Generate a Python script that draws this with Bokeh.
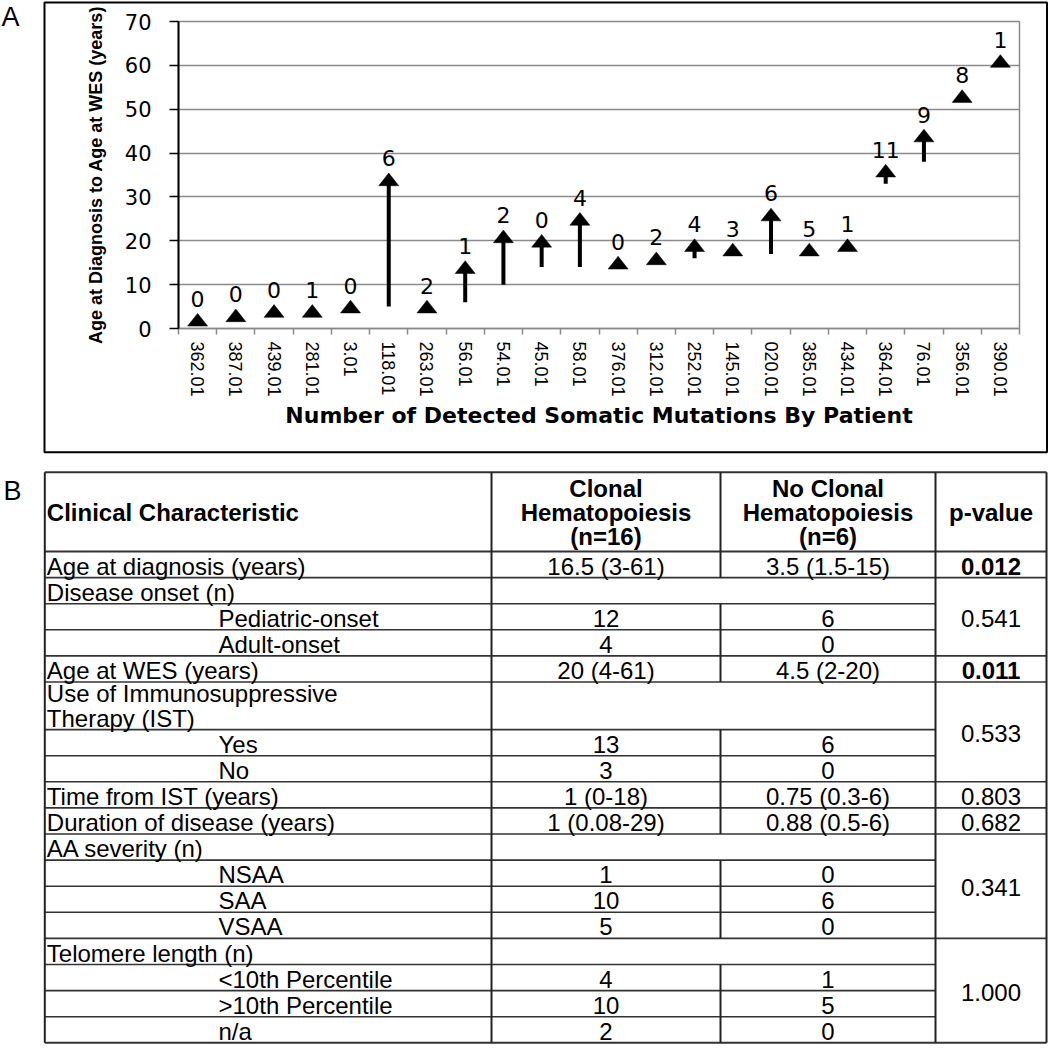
import numpy as np
from bokeh.plotting import figure
from bokeh.models import Range1d, FixedTicker
from bokeh.embed import file_html
from bokeh.resources import INLINE
from bokeh.core.properties import value

# ---------------- data: panel A ----------------
patients = ["362.01", "387.01", "439.01", "281.01", "3.01", "118.01", "263.01",
            "56.01", "54.01", "45.01", "58.01", "376.01", "312.01", "252.01",
            "145.01", "020.01", "385.01", "434.01", "364.01", "76.01", "356.01", "390.01"]
age_at_wes = [2, 3, 4, 4, 5, 34, 5, 14, 21, 20, 25, 15, 16, 19, 18, 26, 18, 19, 36, 44, 53, 61]
age_at_diagnosis = [1.5, 2, 3, 3, 4, 5, 5, 6, 10, 14, 14, 15, 16, 16, 18, 17, 18, 19, 33, 38, 53, 61]
somatic_mutations = [0, 0, 0, 1, 0, 6, 2, 1, 2, 0, 4, 0, 2, 4, 3, 6, 5, 1, 11, 9, 8, 1]
y_ticks = [0, 10, 20, 30, 40, 50, 60, 70]

# ---------------- data: panel B ----------------
header_cells = ["Clinical Characteristic", "Clonal\nHematopoiesis\n(n=16)",
                "No Clonal\nHematopoiesis\n(n=6)", "p-value"]
characteristics = ["Age at diagnosis (years)", "Disease onset (n)", "Pediatric-onset",
                   "Adult-onset", "Age at WES (years)",
                   "Use of Immunosuppressive\nTherapy (IST)", "Yes", "No",
                   "Time from IST (years)", "Duration of disease (years)",
                   "AA severity (n)", "NSAA", "SAA", "VSAA", "Telomere length (n)",
                   "<10th Percentile", ">10th Percentile", "n/a"]
indented = [0, 0, 1, 1, 0, 0, 1, 1, 0, 0, 0, 1, 1, 1, 0, 1, 1, 1]
clonal_values = ["16.5 (3-61)", "", "12", "4", "20 (4-61)", "", "13", "3", "1 (0-18)",
                 "1 (0.08-29)", "", "1", "10", "5", "", "4", "10", "2"]
no_clonal_values = ["3.5 (1.5-15)", "", "6", "0", "4.5 (2-20)", "", "6", "0",
                    "0.75 (0.3-6)", "0.88 (0.5-6)", "", "0", "6", "0", "", "1", "5", "0"]
p_values = ["0.012", "0.541", "0.011", "0.533", "0.803", "0.682", "0.341", "1.000"]
p_value_rows = [1, 3, 1, 3, 1, 1, 4, 4]
p_value_bold = [True, False, True, False, False, False, False, False]

# ---------------- layout ----------------
W = 1048
H = 1048
HA = 460
GRID = "#8a8a8a"
FONT = "Liberation Sans"

# ================= Page canvas (panel frames, letters, table) =================
pb = figure(width=W, height=H, x_range=Range1d(0, W), y_range=Range1d(H, 0),
            output_backend="svg", toolbar_location=None, min_border=0,
            x_axis_location=None, y_axis_location=None)
pb.grid.visible = False
pb.outline_line_color = None
pb.background_fill_color = "white"
pb.border_fill_color = "white"

# panel A frame and letters
pb.quad(left=[44], right=[1046.5], top=[2], bottom=[451.7],
        fill_color=None, line_color="black", line_width=2)
pb.text(x=[1, 3], y=[16.7, 490], text=["A", "B"], text_align="left", text_baseline="middle",
        text_font=value(FONT), text_font_size="27px", text_color="black")

# table geometry
tx = [44.3, 491, 720, 935, 1046]
t_top = 471.7
header_h = 79.3
row_h = 26.1
two_line_h = 47.6
FS = 24
line_gap = 24.5
head_gap = 24

heights = [row_h if "\n" not in c else two_line_h for c in characteristics]
yb = [t_top, t_top + header_h]
for h in heights:
    yb.append(yb[-1] + h)
t_bot = yb[-1]
section = [c == "" for c in clonal_values]
group_edges = [1]
for r in p_value_rows:
    group_edges.append(group_edges[-1] + r)

hx0, hy0, hx1, hy1, hlw = [], [], [], [], []
for k, y in enumerate(yb):
    full = (k == 0) or (k == len(yb) - 1) or (k in group_edges)
    hx0.append(tx[0]); hx1.append(tx[4] if full else tx[3]); hy0.append(y); hy1.append(y)
    hlw.append(2 if k in (0, 1, len(yb) - 1) else 1.6)
pb.segment(x0=hx0, y0=hy0, x1=hx1, y1=hy1, line_width=hlw, line_color="#333333")

vx, vy0, vy1 = [tx[0], tx[4], tx[1], tx[3]], [t_top] * 4, [t_bot] * 4
vx.append(tx[2]); vy0.append(yb[0]); vy1.append(yb[1])
for i, s in enumerate(section):
    if not s:
        vx.append(tx[2]); vy0.append(yb[i + 1]); vy1.append(yb[i + 2])
pb.segment(x0=vx, y0=vy0, x1=vx, y1=vy1, line_width=2, line_color="#222222")

col_x = [tx[0] + 2, (tx[1] + tx[2]) / 2, (tx[2] + tx[3]) / 2, (tx[3] + tx[4]) / 2]

# header texts
hc = (yb[0] + yb[1]) / 2
hxs, hys, hts, hal = [], [], [], []
for j, cell in enumerate(header_cells):
    lines = cell.split("\n")
    m = len(lines)
    for k, ln in enumerate(lines):
        hxs.append(col_x[j]); hys.append(hc + 1 + (k - (m - 1) / 2) * head_gap)
        hts.append(ln); hal.append("left" if j == 0 else "center")
pb.text(x=hxs, y=hys, text=hts, text_align=hal, text_baseline="middle",
        text_font=value(FONT), text_font_style="bold",
        text_font_size=f"{FS}px", text_color="black")

# body texts
bx, by, bt, ba = [], [], [], []
for i, c in enumerate(characteristics):
    lines = c.split("\n")
    m = len(lines)
    bottom = yb[i + 2]
    for k, ln in enumerate(lines):
        bx.append(218 if indented[i] else tx[0] + 2)
        by.append(bottom - 11.5 - (m - 1 - k) * line_gap)
        bt.append(ln); ba.append("left")
    if not section[i]:
        cy = (yb[i + 1] + yb[i + 2]) / 2 + 1.5
        bx += [col_x[1], col_x[2]]; by += [cy, cy]
        bt += [clonal_values[i], no_clonal_values[i]]; ba += ["center", "center"]
for g, pv in enumerate(p_values):
    if not p_value_bold[g]:
        cy = (yb[group_edges[g]] + yb[group_edges[g + 1]]) / 2 + 1.5
        bx.append(col_x[3]); by.append(cy); bt.append(pv); ba.append("center")
pb.text(x=bx, y=by, text=bt, text_align=ba, text_baseline="middle",
        text_font=value(FONT), text_font_size=f"{FS}px", text_color="black")

px_, py_, pt_ = [], [], []
for g, pv in enumerate(p_values):
    if p_value_bold[g]:
        px_.append(col_x[3]); py_.append((yb[group_edges[g]] + yb[group_edges[g + 1]]) / 2 + 1.5)
        pt_.append(pv)
pb.text(x=px_, y=py_, text=pt_, text_align="center", text_baseline="middle",
        text_font=value(FONT), text_font_style="bold",
        text_font_size=f"{FS}px", text_color="black")

# ================= Panel A chart (overlaid on the page canvas) =================
n = len(patients)
pa = figure(width=W, height=HA, x_range=Range1d(0, n), y_range=Range1d(0, 70),
            output_backend="svg", toolbar_location=None,
            min_border_left=178, min_border_right=W - 1019, min_border_top=21,
            min_border_bottom=HA - 21 - 307)
pa.styles = {"position": "absolute", "left": "0px", "top": "0px", "z-index": "2"}
pa.background_fill_color = None
pa.border_fill_color = None
pa.outline_line_color = GRID
pa.outline_line_width = 1.5
pa.xgrid.visible = False
pa.ygrid.grid_line_color = GRID
pa.ygrid.grid_line_width = 1.5

yax = pa.yaxis[0]
yax.ticker = FixedTicker(ticks=y_ticks)
yax.axis_line_color = "black"
yax.axis_line_width = 2
yax.major_tick_out = 9
yax.major_tick_in = 0
yax.major_tick_line_color = "black"
yax.major_tick_line_width = 1.5
yax.minor_tick_line_color = None
yax.major_label_text_font = "DejaVu Sans"
yax.major_label_text_font_size = "21px"
yax.major_label_text_color = "black"
yax.major_label_standoff = 18
yax.axis_label = "Age at Diagnosis to Age at WES (years)"
yax.axis_label_text_font = FONT
yax.axis_label_text_font_style = "bold"
yax.axis_label_text_font_size = "18px"
yax.axis_label_text_color = "black"
yax.axis_label_standoff = 16

centers = [i + 0.5 for i in range(n)]
xax = pa.xaxis[0]
xax.ticker = FixedTicker(ticks=centers, minor_ticks=list(range(n + 1)))
xax.major_label_overrides = {c: lab for c, lab in zip(centers, patients)}
xax.major_label_orientation = "vertical"
xax.major_tick_line_color = None
xax.major_tick_out = 0
xax.major_tick_in = 0
xax.minor_tick_line_color = GRID
xax.minor_tick_line_width = 1.5
xax.minor_tick_out = 6
xax.minor_tick_in = 0
xax.axis_line_color = GRID
xax.axis_line_width = 1.5
xax.major_label_standoff = 7
xax.major_label_text_font = FONT
xax.major_label_text_font_size = "18px"
xax.major_label_text_color = "black"
xax.axis_label = "Number of Detected Somatic Mutations By Patient"
xax.axis_label_text_font = "DejaVu Sans"
xax.axis_label_text_font_style = "bold"
xax.axis_label_text_font_size = "22px"
xax.axis_label_text_color = "black"
xax.axis_label_standoff = 3

xc = np.array(centers)
hw, hh = 0.2615, 1.447
pa.segment(x0=xc, y0=age_at_diagnosis, x1=xc, y1=age_at_wes, line_width=4, line_color="black")
pa.patches(xs=[[x - hw, x + hw, x] for x in xc],
           ys=[[v - hh, v - hh, v + hh] for v in age_at_wes],
           fill_color="black", line_color="black", line_width=0.5)
pa.text(x=xc, y=age_at_wes, text=[str(m) for m in somatic_mutations],
        text_align="center", text_baseline="middle", y_offset=-21,
        text_font=value("DejaVu Sans"), text_font_size="22px", text_color="black")

open("out.html", "w").write(file_html([pb, pa], INLINE))
